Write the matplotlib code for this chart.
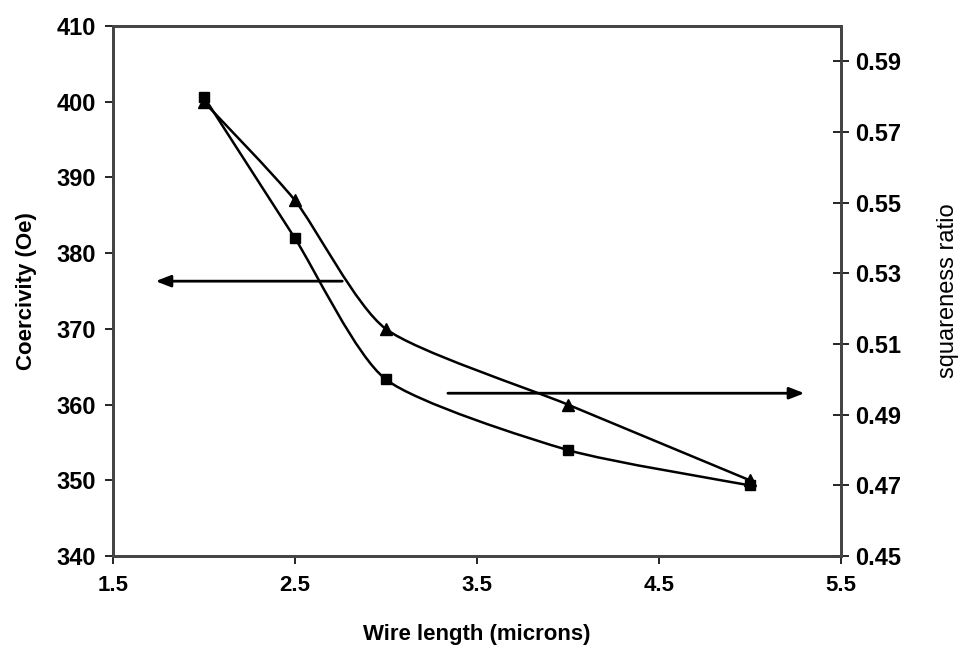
import matplotlib
matplotlib.use("Agg")
import matplotlib.pyplot as plt
import numpy as np
from matplotlib.path import Path
from matplotlib.patches import PathPatch

# 数据
wire_length = [2.0, 2.5, 3.0, 4.0, 5.0]
coercivity = [400, 387, 370, 360, 350]          # 左轴, 三角
squareness = [0.58, 0.54, 0.50, 0.48, 0.47]     # 右轴, 方块

x_ticks = [1.5, 2.5, 3.5, 4.5, 5.5]
left_ticks = [340, 350, 360, 370, 380, 390, 400, 410]
right_ticks = [0.45, 0.47, 0.49, 0.51, 0.53, 0.55, 0.57, 0.59]

plt.rcParams["font.family"] = ["Liberation Sans", "DejaVu Sans"]
plt.rcParams["font.weight"] = "bold"


def smooth_path(xs, ys, tension=0.11):
    """Excel 风格平滑线: 由数据点构造三次贝塞尔路径."""
    pts = np.column_stack([xs, ys]).astype(float)
    verts = [pts[0]]
    codes = [Path.MOVETO]
    n = len(pts)
    for i in range(n - 1):
        p0 = pts[i - 1] if i > 0 else pts[i]
        p1, p2 = pts[i], pts[i + 1]
        p3 = pts[i + 2] if i + 2 < n else pts[i + 1]
        c1 = p1 + (p2 - p0) * tension
        c2 = p2 - (p3 - p1) * tension
        verts += [c1, c2, p2]
        codes += [Path.CURVE4] * 3
    return Path(verts, codes)


fig = plt.figure(figsize=(9.58, 6.53), dpi=100)
ax = fig.add_axes([0.1177, 0.1485, 0.760, 0.8117])
ax2 = ax.twinx()

line_c = "black"
spine_c = "#444444"

ax.add_patch(PathPatch(smooth_path(wire_length, coercivity), fill=False,
                       lw=1.8, color=line_c))
ax.plot(wire_length, coercivity, ls="none", marker="^", ms=8, color=line_c)

ax2.add_patch(PathPatch(smooth_path(wire_length, squareness), fill=False,
                        lw=1.8, color=line_c))
ax2.plot(wire_length, squareness, ls="none", marker="s", ms=7.5, color=line_c)

ax.set_xlim(1.5, 5.5)
ax.set_ylim(340, 410)
ax2.set_ylim(0.45, 0.60)

ax.set_xticks(x_ticks)
ax.set_xticklabels([f"{v:.1f}" for v in x_ticks])
ax.set_yticks(left_ticks)
ax2.set_yticks(right_ticks)
ax2.set_yticklabels([f"{v:.2f}" for v in right_ticks])

ax.tick_params(axis="x", direction="out", length=6, width=1.2, pad=8,
               labelsize=16, colors="black")
ax.tick_params(axis="y", direction="out", length=6, width=1.2, pad=6,
               labelsize=17)
ax2.tick_params(axis="y", direction="inout", length=12, width=1.2, pad=4,
                labelsize=17)

for a in (ax, ax2):
    for s in a.spines.values():
        s.set_linewidth(2.0)
        s.set_color(spine_c)

ax.set_xlabel("Wire length (microns)", fontsize=16, fontweight="bold", labelpad=20)
ax.set_ylabel("Coercivity (Oe)", fontsize=16, fontweight="bold", labelpad=14)
ax2.set_ylabel("squareness ratio", fontsize=17, fontweight="normal", labelpad=26)

# 指向坐标轴的箭头
arrow_kw = dict(arrowstyle="-|>,head_length=0.9,head_width=0.35", lw=2.0, color=line_c)
ax.annotate("", xy=(1.72, 376.3), xytext=(2.776, 376.3), arrowprops=arrow_kw)
ax.annotate("", xy=(5.315, 361.5), xytext=(3.326, 361.5), arrowprops=arrow_kw)

fig.savefig("out.png", dpi=100)
